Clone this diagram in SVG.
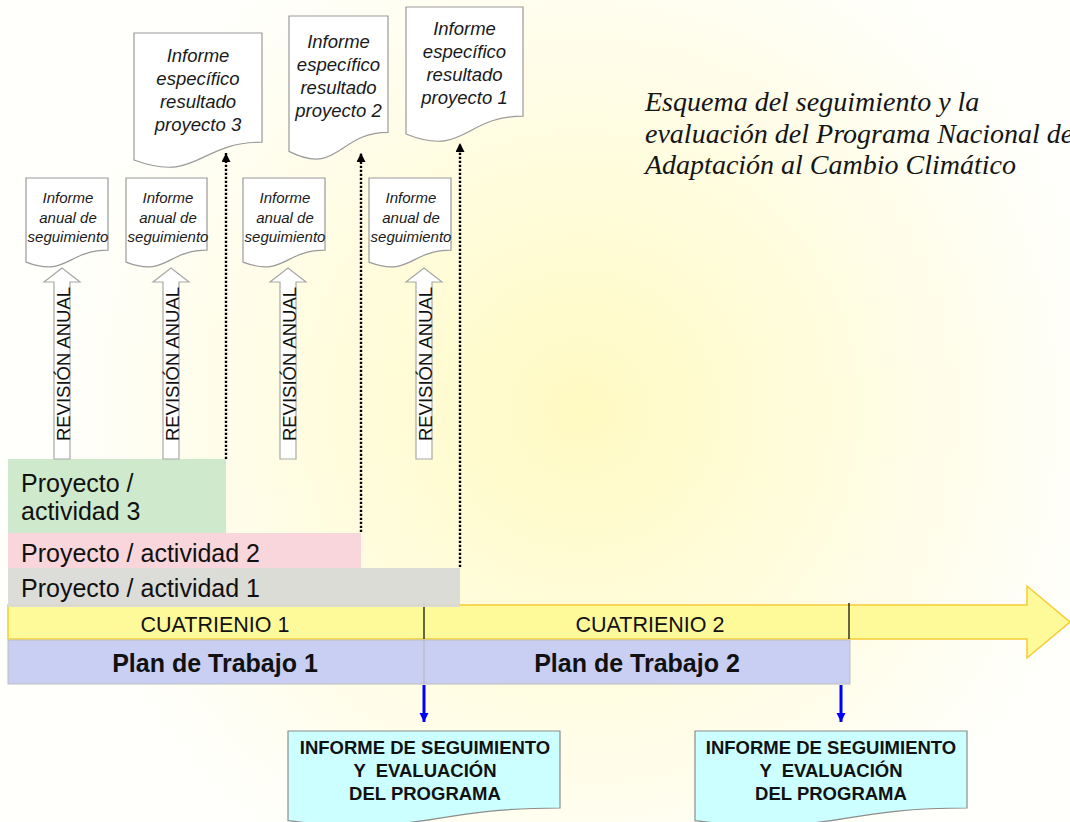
<svg xmlns="http://www.w3.org/2000/svg" width="1070" height="822" viewBox="0 0 1070 822">
  <defs>
    <radialGradient id="bg" gradientUnits="userSpaceOnUse" cx="580" cy="410" r="520">
      <stop offset="0" stop-color="#FFFAC2"/>
      <stop offset="0.45" stop-color="#FFFCDC"/>
      <stop offset="1" stop-color="#FFFFFB"/>
    </radialGradient>
    <marker id="dotHead" viewBox="0 0 10 10" refX="10" refY="5" markerWidth="9" markerHeight="9" markerUnits="userSpaceOnUse" orient="auto">
      <path d="M0,0 L10,5 L0,10 z" fill="#000"/>
    </marker>
    <marker id="blueHead" viewBox="0 0 10 10" refX="10" refY="5" markerWidth="9" markerHeight="10" markerUnits="userSpaceOnUse" orient="auto">
      <path d="M0,0 L10,5 L0,10 z" fill="#0000FF"/>
    </marker>
  </defs>
  <style>
    .doc { fill: #FFFFFF; stroke: #9A9A9A; stroke-width: 1.2; }
    .bdoc { fill: #CCFFFF; stroke: #8C8C8C; stroke-width: 1.2; }
    .spec { font-family: "Liberation Sans", Arial, sans-serif; font-style: italic; font-size: 18.5px; fill: #1A1A1A; text-anchor: middle; }
    .ann { font-family: "Liberation Sans", Arial, sans-serif; font-style: italic; font-size: 15px; fill: #1A1A1A; text-anchor: middle; }
    .rev { fill: #FFFFFF; stroke: #A8A8A8; stroke-width: 1.2; }
    .revt { font-family: "Liberation Sans", Arial, sans-serif; font-size: 18.5px; fill: #111; text-anchor: middle; }
    .proj { font-family: "Liberation Sans", Arial, sans-serif; font-size: 25px; fill: #111; }
    .cuat { font-family: "Liberation Sans", Arial, sans-serif; font-size: 21.5px; fill: #111; text-anchor: middle; }
    .plan { font-family: "Liberation Sans", Arial, sans-serif; font-size: 25px; font-weight: bold; fill: #111; text-anchor: middle; }
    .inf { font-family: "Liberation Sans", Arial, sans-serif; font-size: 18.5px; font-weight: bold; fill: #111; text-anchor: middle; }
    .title { font-family: "Liberation Serif", "Times New Roman", serif; font-style: italic; font-size: 28px; fill: #151515; }
    .dotted { stroke: #000; stroke-width: 2.4; stroke-dasharray: 2.2 1.8; fill: none; marker-end: url(#dotHead); }
    .blue { stroke: #0000FF; stroke-width: 3; fill: none; marker-end: url(#blueHead); }
  </style>

  <rect x="0" y="0" width="1070" height="822" fill="url(#bg)"/>

  <!-- Title -->
  <g id="title">
    <text class="title" x="645" y="111">Esquema del seguimiento y la</text>
    <text class="title" x="645" y="142.5">evaluación del Programa Nacional de</text>
    <text class="title" x="645" y="174">Adaptación al Cambio Climático</text>
  </g>

  <!-- Specific result reports -->
  <g id="informe-proyecto-3">
    <path class="doc" d="M134,33 H262 V142.1 C198,142.1 198,183.6 134,160 Z"/>
    <text class="spec" x="198" y="62">Informe</text>
    <text class="spec" x="198" y="85">específico</text>
    <text class="spec" x="198" y="108">resultado</text>
    <text class="spec" x="198" y="131">proyecto 3</text>
  </g>
  <g id="informe-proyecto-2">
    <path class="doc" d="M289,16 H388 V132.3 C338.5,132.3 338.5,176.6 289,151.4 Z"/>
    <text class="spec" x="338.5" y="48">Informe</text>
    <text class="spec" x="338.5" y="71">específico</text>
    <text class="spec" x="338.5" y="94">resultado</text>
    <text class="spec" x="338.5" y="117">proyecto 2</text>
  </g>
  <g id="informe-proyecto-1">
    <path class="doc" d="M406,7 H523 V116.1 C464.5,116.1 464.5,157.6 406,134 Z"/>
    <text class="spec" x="464.5" y="35">Informe</text>
    <text class="spec" x="464.5" y="58">específico</text>
    <text class="spec" x="464.5" y="81">resultado</text>
    <text class="spec" x="464.5" y="104">proyecto 1</text>
  </g>

  <!-- Annual monitoring reports -->
  <g id="informe-anual-1">
    <path class="doc" d="M26,178 H108 V250.2 C67,250.2 67,277.7 26,262.1 Z"/>
    <text class="ann" x="68" y="203">Informe</text>
    <text class="ann" x="68" y="223">anual de</text>
    <text class="ann" x="68" y="242">seguimiento</text>
  </g>
  <g id="informe-anual-2">
    <path class="doc" d="M126,178 H207 V250.2 C166.5,250.2 166.5,277.7 126,262.1 Z"/>
    <text class="ann" x="168" y="203">Informe</text>
    <text class="ann" x="168" y="223">anual de</text>
    <text class="ann" x="168" y="242">seguimiento</text>
  </g>
  <g id="informe-anual-3">
    <path class="doc" d="M243,178 H325 V250.2 C284,250.2 284,277.7 243,262.1 Z"/>
    <text class="ann" x="285" y="203">Informe</text>
    <text class="ann" x="285" y="223">anual de</text>
    <text class="ann" x="285" y="242">seguimiento</text>
  </g>
  <g id="informe-anual-4">
    <path class="doc" d="M369,178 H451 V250.2 C410,250.2 410,277.7 369,262.1 Z"/>
    <text class="ann" x="411" y="203">Informe</text>
    <text class="ann" x="411" y="223">anual de</text>
    <text class="ann" x="411" y="242">seguimiento</text>
  </g>

  <!-- Timeline -->
  <g id="timeline">
    <polygon points="8,605 1027,605 1027,586 1070,622 1027,658 1027,639 8,639" fill="#FFFA99" stroke="#F5CB35" stroke-width="1.5"/>
    <line x1="424" y1="603" x2="424" y2="639" stroke="#000" stroke-width="1.2"/>
    <line x1="849" y1="603" x2="849" y2="639" stroke="#000" stroke-width="1.2"/>
    <text class="cuat" x="215" y="632">CUATRIENIO 1</text>
    <text class="cuat" x="650" y="632">CUATRIENIO 2</text>
  </g>

  <!-- Project bars -->
  <g id="proyecto-3">
    <rect x="8" y="459" width="218" height="74" fill="#CFE9CC"/>
    <text class="proj" x="21" y="492">Proyecto /</text>
    <text class="proj" x="21" y="520">actividad 3</text>
  </g>
  <g id="proyecto-2">
    <rect x="8" y="533" width="353" height="35" fill="#F8D6DC"/>
    <text class="proj" x="21" y="562">Proyecto / actividad 2</text>
  </g>
  <g id="proyecto-1">
    <rect x="8" y="568" width="452" height="39" fill="#DADAD6" fill-opacity="0.95"/>
    <text class="proj" x="21" y="597">Proyecto / actividad 1</text>
  </g>

  <!-- Work plans -->
  <g id="plan-trabajo">
    <rect x="8" y="640" width="842" height="44" fill="#C9CFF2" stroke="#BDBDBD" stroke-width="1"/>
    <line x1="424" y1="640" x2="424" y2="684" stroke="#B5B5B5" stroke-width="1"/>
    <text class="plan" x="215" y="672">Plan de Trabajo 1</text>
    <text class="plan" x="637" y="672">Plan de Trabajo 2</text>
  </g>

  <!-- Program evaluation reports -->
  <g id="informe-programa-1">
    <path class="bdoc" d="M288,731 H560 V808 C424,808 424,837.3 288,820.7 Z"/>
    <text class="inf" x="425" y="754">INFORME DE SEGUIMIENTO</text>
    <text class="inf" x="425" y="777" xml:space="preserve">Y  EVALUACIÓN</text>
    <text class="inf" x="425" y="800">DEL PROGRAMA</text>
  </g>
  <g id="informe-programa-2">
    <path class="bdoc" d="M695,731 H967 V808 C831,808 831,837.3 695,820.7 Z"/>
    <text class="inf" x="831" y="754">INFORME DE SEGUIMIENTO</text>
    <text class="inf" x="831" y="777" xml:space="preserve">Y  EVALUACIÓN</text>
    <text class="inf" x="831" y="800">DEL PROGRAMA</text>
  </g>

  <!-- Annual review block arrows -->
  <g id="revision-anual">
    <polygon class="rev" points="54,459 54,282 44,282 62,268 80,282 70,282 70,459"/>
    <text class="revt" transform="translate(70,364) rotate(-90)">REVISIÓN ANUAL</text>
    <polygon class="rev" points="163,459 163,282 153,282 171,268 189,282 179,282 179,459"/>
    <text class="revt" transform="translate(179,364) rotate(-90)">REVISIÓN ANUAL</text>
    <polygon class="rev" points="280,459 280,282 270,282 288,268 306,282 296,282 296,459"/>
    <text class="revt" transform="translate(296,364) rotate(-90)">REVISIÓN ANUAL</text>
    <polygon class="rev" points="416,459 416,282 406,282 424,268 442,282 432,282 432,459"/>
    <text class="revt" transform="translate(432,364) rotate(-90)">REVISIÓN ANUAL</text>
  </g>

  <!-- Connectors -->
  <g id="connectors">
    <line class="dotted" x1="226" y1="459" x2="226" y2="153"/>
    <line class="dotted" x1="361" y1="532" x2="361" y2="153"/>
    <line class="dotted" x1="460" y1="567" x2="460" y2="143"/>
    <line class="blue" x1="424" y1="685" x2="424" y2="722"/>
    <line class="blue" x1="841" y1="685" x2="841" y2="722"/>
  </g>
</svg>
